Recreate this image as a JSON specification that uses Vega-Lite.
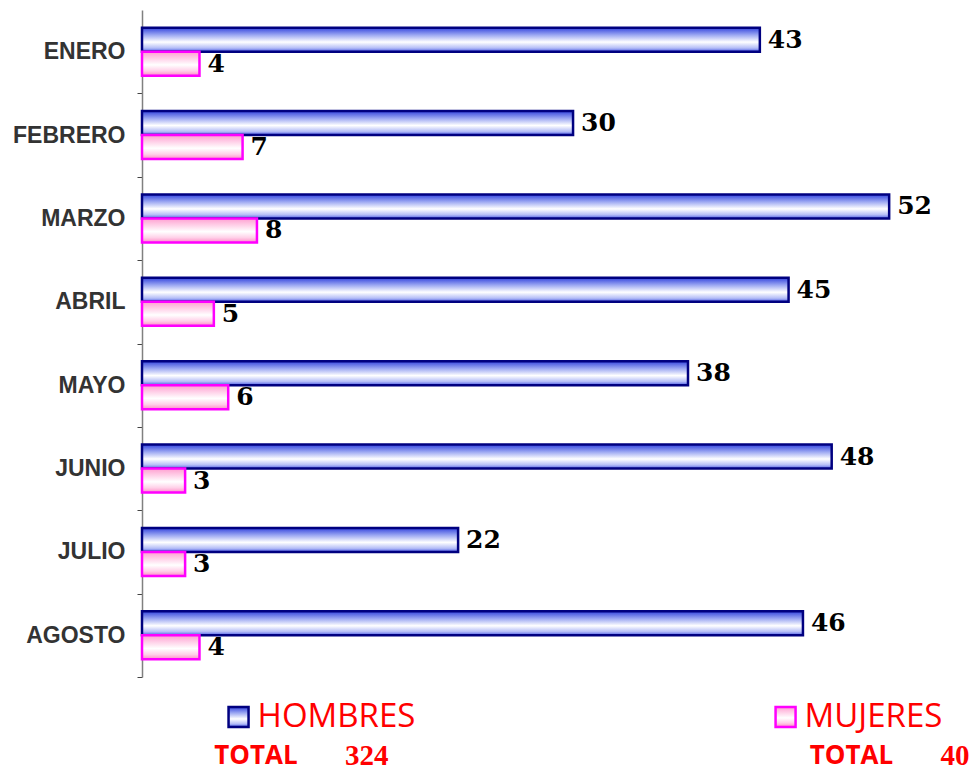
{
  "$schema": "https://vega.github.io/schema/vega-lite/v6.json",
  "padding": {"left": 12, "top": 10, "right": 2, "bottom": 0},
  "spacing": 20,
  "config": {"view": {"stroke": null}},
  "vconcat": [
    {
      "width": 819,
      "height": 667,
      "data": {"values": [
        {"mes": "ENERO", "serie": "HOMBRES", "valor": 43},
        {"mes": "ENERO", "serie": "MUJERES", "valor": 4},
        {"mes": "FEBRERO", "serie": "HOMBRES", "valor": 30},
        {"mes": "FEBRERO", "serie": "MUJERES", "valor": 7},
        {"mes": "MARZO", "serie": "HOMBRES", "valor": 52},
        {"mes": "MARZO", "serie": "MUJERES", "valor": 8},
        {"mes": "ABRIL", "serie": "HOMBRES", "valor": 45},
        {"mes": "ABRIL", "serie": "MUJERES", "valor": 5},
        {"mes": "MAYO", "serie": "HOMBRES", "valor": 38},
        {"mes": "MAYO", "serie": "MUJERES", "valor": 6},
        {"mes": "JUNIO", "serie": "HOMBRES", "valor": 48},
        {"mes": "JUNIO", "serie": "MUJERES", "valor": 3},
        {"mes": "JULIO", "serie": "HOMBRES", "valor": 22},
        {"mes": "JULIO", "serie": "MUJERES", "valor": 3},
        {"mes": "AGOSTO", "serie": "HOMBRES", "valor": 46},
        {"mes": "AGOSTO", "serie": "MUJERES", "valor": 4}
      ]},
      "encoding": {
        "y": {
          "field": "mes", "type": "nominal",
          "scale": {"domain": ["ENERO","FEBRERO","MARZO","ABRIL","MAYO","JUNIO","JULIO","AGOSTO"], "paddingInner": 0.4243, "paddingOuter": 0.212},
          "axis": {
            "title": null, "domainColor": "#808080", "domainWidth": 1.5, "tickColor": "#444444", "tickSize": 5, "tickOffset": 41.69, "labelOffset": -41.69,
            "labelPadding": 12, "labelFont": "Liberation Sans", "labelFontWeight": "bold", "labelFontSize": 23, "labelColor": "#333333", "grid": false
          }
        },
        "yOffset": {"field": "serie", "type": "nominal", "scale": {"domain": ["HOMBRES","MUJERES"], "paddingInner": 0, "paddingOuter": 0}},
        "x": {"field": "valor", "type": "quantitative", "scale": {"domain": [0, 57], "nice": false}, "axis": null}
      },
      "layer": [
        {
          "transform": [{"filter": "datum.serie === 'HOMBRES'"}],
          "mark": {"type": "bar", "stroke": "#000080", "strokeWidth": 2.5,
            "fill": {"gradient": "linear", "x1": 0, "y1": 0, "x2": 0, "y2": 1, "stops": [
              {"offset": 0, "color": "#3344dd"}, {"offset": 0.3, "color": "#9aa6f2"}, {"offset": 0.6, "color": "#ffffff"}, {"offset": 0.85, "color": "#b4bdf7"}, {"offset": 1, "color": "#4a5ae4"}]}}
        },
        {
          "transform": [{"filter": "datum.serie === 'MUJERES'"}],
          "mark": {"type": "bar", "stroke": "#ff00ff", "strokeWidth": 2.5,
            "fill": {"gradient": "linear", "x1": 0, "y1": 0, "x2": 0, "y2": 1, "stops": [
              {"offset": 0, "color": "#ff9fd0"}, {"offset": 0.55, "color": "#ffffff"}, {"offset": 0.8, "color": "#ffd0e8"}, {"offset": 1, "color": "#ff8ac6"}]}}
        },
        {
          "mark": {"type": "text", "align": "left", "baseline": "middle", "dx": 8, "font": "DejaVu Serif", "fontWeight": "bold", "fontSize": 25, "color": "#000000"},
          "encoding": {"text": {"field": "valor", "type": "quantitative"}}
        }
      ]
    },
    {
      "width": 819,
      "height": 66,
      "data": {"values": [
        {"serie": "HOMBRES", "total": 324},
        {"serie": "MUJERES", "total": 40}
      ]},
      "layer": [
        {
          "transform": [{"filter": "datum.serie === 'HOMBRES'"}],
          "mark": {"type": "point", "shape": "square", "size": 400, "filled": true, "opacity": 1, "stroke": "#000080", "strokeWidth": 2.5,
            "fill": {"gradient": "linear", "x1": 0, "y1": 0, "x2": 0, "y2": 1, "stops": [
              {"offset": 0, "color": "#3344dd"}, {"offset": 0.3, "color": "#9aa6f2"}, {"offset": 0.6, "color": "#ffffff"}, {"offset": 0.85, "color": "#b4bdf7"}, {"offset": 1, "color": "#4a5ae4"}]}},
          "encoding": {
            "x": {"field": "serie", "type": "nominal", "scale": {"type": "point", "domain": ["HOMBRES","MUJERES"], "padding": 0.2486, "align": 0.355}, "axis": null},
            "y": {"datum": "leyenda", "type": "nominal", "scale": {"type": "point", "domain": ["leyenda","total"], "padding": 0.346, "align": 0.7}, "axis": null}
          }
        },
        {
          "transform": [{"filter": "datum.serie === 'MUJERES'"}],
          "mark": {"type": "point", "shape": "square", "size": 400, "filled": true, "opacity": 1, "stroke": "#ff00ff", "strokeWidth": 2.5,
            "fill": {"gradient": "linear", "x1": 0, "y1": 0, "x2": 0, "y2": 1, "stops": [
              {"offset": 0, "color": "#ff9fd0"}, {"offset": 0.55, "color": "#ffffff"}, {"offset": 0.8, "color": "#ffd0e8"}, {"offset": 1, "color": "#ff8ac6"}]}},
          "encoding": {
            "x": {"field": "serie", "type": "nominal", "scale": {"type": "point", "domain": ["HOMBRES","MUJERES"], "padding": 0.2486, "align": 0.355}, "axis": null},
            "y": {"datum": "leyenda", "type": "nominal", "scale": {"type": "point", "domain": ["leyenda","total"], "padding": 0.346, "align": 0.7}, "axis": null}
          }
        },
        {
          "mark": {"type": "text", "align": "left", "baseline": "middle", "dx": 19, "font": "Open Sans", "fontSize": 33, "color": "#ff0000"},
          "encoding": {
            "x": {"field": "serie", "type": "nominal", "scale": {"type": "point", "domain": ["HOMBRES","MUJERES"], "padding": 0.2486, "align": 0.355}, "axis": null},
            "y": {"datum": "leyenda", "type": "nominal", "scale": {"type": "point", "domain": ["leyenda","total"], "padding": 0.346, "align": 0.7}, "axis": null},
            "text": {"field": "serie", "type": "nominal"}
          }
        },
        {
          "mark": {"type": "text", "align": "center", "baseline": "middle", "text": "TOTAL", "font": "Open Sans", "fontWeight": "bold", "fontSize": 26, "color": "#ff0000"},
          "encoding": {
            "x": {"field": "serie", "type": "nominal", "scale": {"type": "point", "domain": ["HOMBRES","MUJERES"], "padding": 0.1877, "align": 0.51}, "axis": null},
            "y": {"datum": "total", "type": "nominal", "scale": {"type": "point", "domain": ["leyenda","total"], "padding": 0.346, "align": 0.7}, "axis": null}
          }
        },
        {
          "mark": {"type": "text", "align": "left", "baseline": "middle", "dx": 89, "font": "Liberation Serif", "fontWeight": "bold", "fontSize": 29, "color": "#ff0000"},
          "encoding": {
            "x": {"field": "serie", "type": "nominal", "scale": {"type": "point", "domain": ["HOMBRES","MUJERES"], "padding": 0.1877, "align": 0.51}, "axis": null},
            "y": {"datum": "total", "type": "nominal", "scale": {"type": "point", "domain": ["leyenda","total"], "padding": 0.346, "align": 0.7}, "axis": null},
            "text": {"field": "total", "type": "quantitative"}
          }
        }
      ],
      "resolve": {"scale": {"x": "independent"}}
    }
  ]
}
